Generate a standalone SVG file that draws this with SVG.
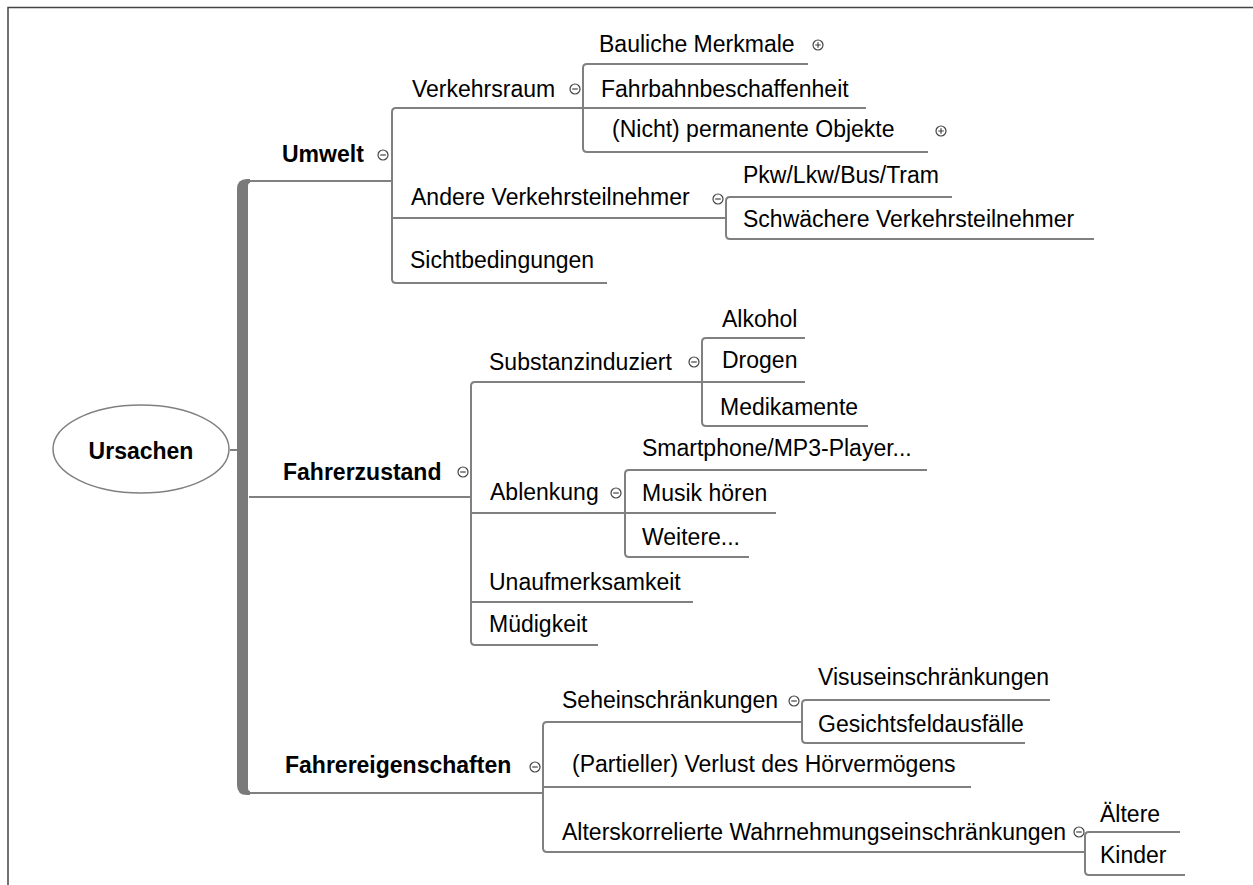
<svg xmlns="http://www.w3.org/2000/svg" xmlns:xlink="http://www.w3.org/1999/xlink" width="1253" height="885" viewBox="0 0 1253 885">
<style>
.t{font-family:"Liberation Sans",Arial,sans-serif;font-size:23px;fill:#000}
.b{font-weight:bold}
.c{fill:none;stroke:#808080;stroke-width:2}
.frame{fill:none;stroke:#444;stroke-width:1.5}
</style>
<defs>
<g id="minus"><circle r="5" fill="#fff" stroke="#444" stroke-width="1.2"/><path d="M-2.8 0H2.8" stroke="#444" stroke-width="1.2"/></g>
<g id="plus"><circle r="5" fill="#fff" stroke="#444" stroke-width="1.2"/><path d="M-2.8 0H2.8M0 -2.8V2.8" stroke="#444" stroke-width="1.2"/></g>
</defs>
<rect width="1253" height="885" fill="#fff"/>
<path class="frame" d="M8 885V7.5H1253"/>
<g id="connectors">
<path d="M237 189Q237 179 247 179L250 179L250 183Q248 183 248 186L248 788Q248 791 250 791L250 795L247 795Q237 795 237 785Z" fill="#7a7a7a"/>
<path class="c" d="M230 450H237"/>
<path class="c" d="M249 181H392"/>
<path class="c" d="M866 108H396Q392 108 392 112V279Q392 283 396 283H607"/>
<path class="c" d="M392 218H726"/>
<path class="c" d="M808 64H587Q583 64 583 68V148Q583 152 587 152H928"/>
<path class="c" d="M952 197H730Q726 197 726 201V235Q726 239 730 239H1094"/>
<path class="c" d="M249 497H471"/>
<path class="c" d="M805 382H475Q471 382 471 386V641Q471 645 475 645H598"/>
<path class="c" d="M471 513H776"/>
<path class="c" d="M471 602H693"/>
<path class="c" d="M805 338H706Q702 338 702 342V422Q702 426 706 426H868"/>
<path class="c" d="M927 470H629Q625 470 625 474V553Q625 557 629 557H749"/>
<path class="c" d="M249 793H543"/>
<path class="c" d="M802 722H547Q543 722 543 726V848Q543 852 547 852H1085"/>
<path class="c" d="M543 787H971"/>
<path class="c" d="M1050 700H806Q802 700 802 704V739Q802 743 806 743H1025"/>
<path class="c" d="M1180 832H1089Q1085 832 1085 836V871Q1085 875 1089 875H1185"/>
</g>
<g id="ursachen"><ellipse cx="141" cy="449" rx="88" ry="44" fill="#fff" stroke="#808080" stroke-width="1.5"/><text class="t b" x="141" y="459" text-anchor="middle">Ursachen</text></g>
<g id="umwelt"><text class="t b" x="282" y="162">Umwelt</text><use xlink:href="#minus" x="383" y="155"/></g>
<g id="verkehrsraum"><text class="t" x="412" y="97">Verkehrsraum</text><use xlink:href="#minus" x="575" y="89"/></g>
<g id="bauliche"><text class="t" x="599" y="52">Bauliche Merkmale</text><use xlink:href="#plus" x="818" y="45"/></g>
<g id="fahrbahn"><text class="t" x="601" y="97">Fahrbahnbeschaffenheit</text></g>
<g id="objekte"><text class="t" x="612" y="137">(Nicht) permanente Objekte</text><use xlink:href="#plus" x="941" y="131"/></g>
<g id="andere"><text class="t" x="411" y="205">Andere Verkehrsteilnehmer</text><use xlink:href="#minus" x="718" y="199"/></g>
<g id="pkw"><text class="t" x="743" y="183">Pkw/Lkw/Bus/Tram</text></g>
<g id="schwaechere"><text class="t" x="743" y="227">Schwächere Verkehrsteilnehmer</text></g>
<g id="sicht"><text class="t" x="410" y="268">Sichtbedingungen</text></g>
<g id="fahrerzustand"><text class="t b" x="283" y="480">Fahrerzustand</text><use xlink:href="#minus" x="463" y="472"/></g>
<g id="substanz"><text class="t" x="489" y="370">Substanzinduziert</text><use xlink:href="#minus" x="694" y="362"/></g>
<g id="alkohol"><text class="t" x="722" y="327">Alkohol</text></g>
<g id="drogen"><text class="t" x="722" y="368">Drogen</text></g>
<g id="medikamente"><text class="t" x="720" y="415">Medikamente</text></g>
<g id="ablenkung"><text class="t" x="490" y="500">Ablenkung</text><use xlink:href="#minus" x="616" y="493"/></g>
<g id="smartphone"><text class="t" x="642" y="456">Smartphone/MP3-Player...</text></g>
<g id="musik"><text class="t" x="642" y="501">Musik hören</text></g>
<g id="weitere"><text class="t" x="642" y="545">Weitere...</text></g>
<g id="unaufmerksamkeit"><text class="t" x="489" y="590">Unaufmerksamkeit</text></g>
<g id="muedigkeit"><text class="t" x="489" y="632">Müdigkeit</text></g>
<g id="fahrereigenschaften"><text class="t b" x="285" y="773">Fahrereigenschaften</text><use xlink:href="#minus" x="535" y="767"/></g>
<g id="sehein"><text class="t" x="562" y="708">Seheinschränkungen</text><use xlink:href="#minus" x="794" y="701"/></g>
<g id="visus"><text class="t" x="818" y="685">Visuseinschränkungen</text></g>
<g id="gesichtsfeld"><text class="t" x="818" y="732">Gesichtsfeldausfälle</text></g>
<g id="hoer"><text class="t" x="572" y="772">(Partieller) Verlust des Hörvermögens</text></g>
<g id="alters"><text class="t" x="562" y="840">Alterskorrelierte Wahrnehmungseinschränkungen</text><use xlink:href="#minus" x="1079" y="832"/></g>
<g id="aeltere"><text class="t" x="1100" y="822">Ältere</text></g>
<g id="kinder"><text class="t" x="1100" y="863">Kinder</text></g>
</svg>
